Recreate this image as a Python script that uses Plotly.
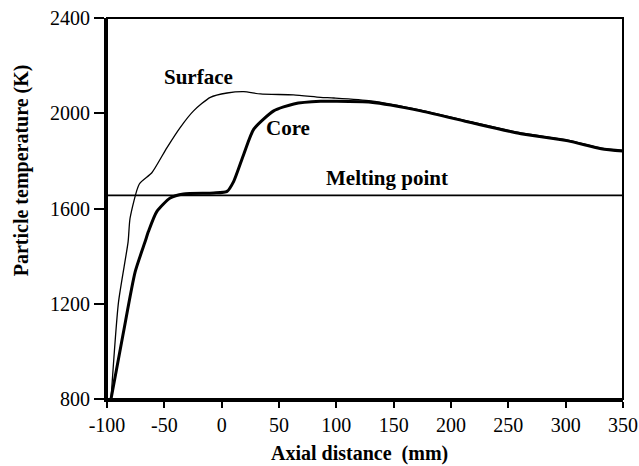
import plotly.graph_objects as go

surface_x = [-96.5, -90, -81.6, -79.9, -71.8, -60.9, -47.8, -36.2, -24.5, -9.9, 4.7, 19.2, 33.8, 62.6, 86.2, 97.9, 130, 173.7, 217.4, 261, 302, 331, 350]
surface_y = [800, 1206, 1460, 1559, 1703, 1750, 1855, 1940, 2010, 2067, 2085, 2091, 2081, 2077, 2067, 2064, 2052, 2013, 1964, 1917, 1887, 1854, 1844]

core_x = [-96.5, -85.7, -75.5, -66.8, -63.9, -56.6, -44.9, -33.3, -7, 4.7, 10.5, 19.2, 28, 45.4, 62.9, 86.2, 97.9, 130, 173.7, 217.4, 261, 302, 331, 350]
core_y = [800, 1079, 1333, 1460, 1503, 1587, 1644, 1661, 1665, 1672, 1714, 1827, 1933, 2010, 2039, 2050, 2050, 2046, 2010, 1961, 1914, 1884, 1851, 1841]

melting_point = 1655
x_range = [-100, 350]
y_range = [800, 2400]
x_ticks = [-100, -50, 0, 50, 100, 150, 200, 250, 300, 350]
x_tick_labels = ["-100", "-50", "0", "50", "100", "150", "200", "250", "300", "350"]
y_ticks = [800, 1200, 1600, 2000, 2400]
y_tick_labels = ["800", "1200", "1600", "2000", "2400"]

font = "Liberation Serif"

fig = go.Figure()
fig.add_trace(go.Scatter(x=x_range, y=[melting_point, melting_point], mode="lines",
                         line=dict(color="black", width=1.6), showlegend=False))
fig.add_trace(go.Scatter(x=surface_x, y=surface_y, mode="lines",
                         line=dict(color="black", width=1.3, shape="spline", smoothing=0.6), showlegend=False))
fig.add_trace(go.Scatter(x=core_x, y=core_y, mode="lines",
                         line=dict(color="black", width=3, shape="spline", smoothing=0.6), showlegend=False))

fig.add_annotation(x=-20, y=2154, text="<b>Surface</b>", showarrow=False, font=dict(family=font, size=21, color="black"))
fig.add_annotation(x=58, y=1938, text="<b>Core</b>", showarrow=False, font=dict(family=font, size=21, color="black"))
fig.add_annotation(x=144.5, y=1728, text="<b>Melting point</b>", showarrow=False, font=dict(family=font, size=21, color="black"))

# axis titles
fig.add_annotation(xref="paper", yref="paper", x=-0.165, y=0.60, xanchor="center", yanchor="middle",
                   text="<b>Particle temperature (K)</b>",
                   textangle=-90, showarrow=False, font=dict(family=font, size=20, color="black"))
fig.add_annotation(xref="paper", yref="paper", x=0.49, y=-0.143, xanchor="center", yanchor="middle",
                   text="<b>Axial distance  (mm)</b>",
                   showarrow=False, font=dict(family=font, size=20, color="black"))

fig.add_shape(type="rect", xref="paper", yref="paper", x0=0, y0=0, x1=1, y1=1,
              line=dict(color="black", width=2))

fig.update_layout(
    width=639, height=466,
    margin=dict(l=107, r=16, t=18, b=67),
    paper_bgcolor="white", plot_bgcolor="white",
    font=dict(family=font, color="black"),
)
fig.update_xaxes(range=x_range, tickvals=x_ticks, ticktext=x_tick_labels, showgrid=False, zeroline=False,
                 showline=True, linewidth=3, linecolor="black", automargin=False,
                 ticks="outside", ticklen=6, tickwidth=2, tickcolor="black", ticklabeloverflow="allow",
                 tickfont=dict(family=font, size=20))
fig.update_yaxes(range=y_range, tickvals=y_ticks, ticktext=y_tick_labels, showgrid=False, zeroline=False,
                 showline=True, linewidth=3, linecolor="black", automargin=False,
                 ticks="outside", ticklen=10, tickwidth=2, tickcolor="black", ticklabeloverflow="allow",
                 tickfont=dict(family=font, size=20))

fig.write_html("out.html", config={"displayModeBar": False},
               post_script="document.body.style.margin='0';document.body.style.overflow='hidden';")
